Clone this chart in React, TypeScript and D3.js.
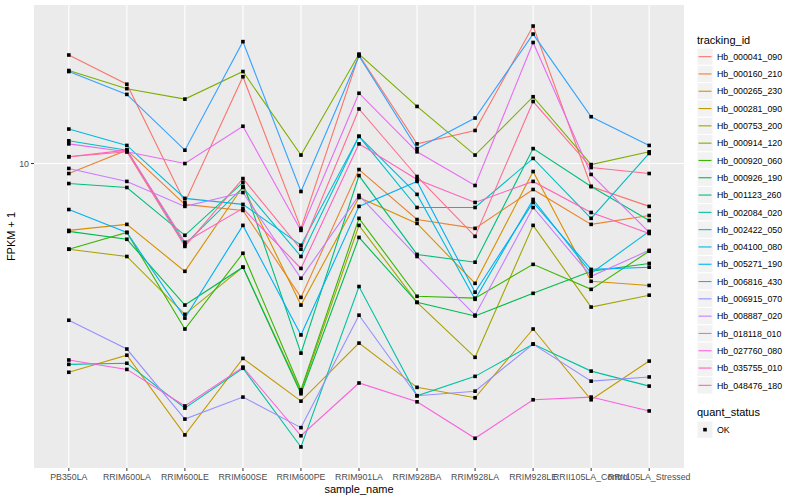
import * as d3 from 'd3'

const SAMPLES = [
  'PB350LA', 'RRIM600LA', 'RRIM600LE', 'RRIM600SE', 'RRIM600PE', 'RRIM901LA',
  'RRIM928BA', 'RRIM928LA', 'RRIM928LE', 'RRII105LA_Control', 'RRII105LA_Stressed',
]

const TRACKING_IDS = [
  'Hb_000041_090', 'Hb_000160_210', 'Hb_000265_230', 'Hb_000281_090', 'Hb_000753_200',
  'Hb_000914_120', 'Hb_000920_060', 'Hb_000926_190', 'Hb_001123_260', 'Hb_002084_020',
  'Hb_002422_050', 'Hb_004100_080', 'Hb_005271_190', 'Hb_006816_430', 'Hb_006915_070',
  'Hb_008887_020', 'Hb_018118_010', 'Hb_027760_080', 'Hb_035755_010', 'Hb_048476_180',
]

// ggplot hue palette, 20 levels
const COLORS = [
  '#F8766D', '#EA8331', '#D89000', '#C09B00', '#A3A500', '#7CAE00', '#39B600', '#00BB4E',
  '#00BF7D', '#00C1A3', '#00BFC4', '#00BAE0', '#00B0F6', '#35A2FF', '#9590FF', '#C77CFF',
  '#E76BF3', '#FA62DB', '#FF62BC', '#FF6C91',
]

// FPKM + 1, one row per tracking_id, one column per sample
const FPKM_PLUS_1: number[][] = [
  [18.7, 15.8, 7.99, 16.5, 6.88, 18.7, 11.2, 12.1, 22.1, 8.76, 7.81],
  [9.44, 10.8, 7.90, 7.63, 4.62, 9.66, 7.24, 6.88, 8.61, 7.04, 7.41],
  [6.80, 7.04, 5.37, 8.76, 4.42, 8.22, 7.08, 5.01, 9.55, 5.07, 4.95],
  [3.00, 3.31, 2.09, 3.25, 2.54, 3.55, 2.75, 2.59, 3.85, 2.56, 3.20],
  [6.10, 5.85, 4.19, 5.50, 2.68, 7.00, 4.49, 3.27, 7.00, 4.37, 4.68],
  [17.1, 15.4, 14.5, 17.0, 10.5, 18.8, 13.9, 10.5, 14.7, 9.94, 10.7],
  [6.10, 6.72, 3.85, 5.96, 2.71, 7.29, 4.65, 4.60, 5.59, 4.84, 6.03],
  [6.76, 6.46, 4.42, 5.50, 2.65, 6.53, 4.49, 4.15, 4.73, 5.37, 5.62],
  [8.91, 8.71, 6.61, 8.97, 3.35, 9.33, 5.92, 5.66, 10.9, 8.76, 7.20],
  [3.14, 3.16, 2.44, 3.07, 1.95, 4.92, 2.62, 2.93, 3.53, 3.02, 2.77],
  [11.4, 10.8, 6.27, 8.71, 5.85, 11.7, 7.76, 7.76, 10.3, 7.29, 10.6],
  [12.2, 11.1, 8.18, 7.90, 6.24, 11.7, 8.37, 4.57, 8.13, 5.31, 6.76],
  [7.67, 6.72, 4.10, 7.00, 3.72, 7.81, 9.02, 4.76, 7.99, 5.43, 5.50],
  [17.0, 14.9, 10.8, 20.2, 8.51, 18.6, 10.9, 13.0, 21.1, 13.1, 11.1],
  [4.05, 3.43, 2.29, 2.60, 2.18, 4.17, 2.62, 2.69, 3.53, 2.85, 2.92],
  [9.72, 9.02, 7.81, 8.46, 5.16, 8.32, 5.85, 4.17, 7.76, 5.22, 6.06],
  [11.2, 10.7, 10.0, 12.4, 6.80, 15.0, 10.7, 8.81, 20.1, 9.39, 6.72],
  [3.22, 3.05, 2.47, 3.09, 2.08, 2.82, 2.53, 2.05, 2.56, 2.60, 2.40],
  [10.4, 10.8, 6.35, 7.72, 5.46, 11.2, 9.12, 7.99, 9.02, 7.54, 6.68],
  [10.4, 10.7, 6.20, 9.17, 6.10, 13.7, 9.28, 6.57, 14.3, 9.77, 9.44],
]

const Y_TICKS = [10]

const WIDTH = 800
const HEIGHT = 500
const P = { left: 34, right: 684, top: 5, bottom: 468 }
const FONT = '"Liberation Sans", Arial, Helvetica, sans-serif'

export default function App() {
  const x = d3.scalePoint<string>().domain(SAMPLES).range([P.left, P.right]).padding(0.6)

  // log scale with ggplot-style 5% expansion
  const all = FPKM_PLUS_1.flat()
  const lo = Math.log10(d3.min(all)!)
  const hi = Math.log10(d3.max(all)!)
  const pad = (hi - lo) * 0.05
  const y = d3.scaleLog().domain([10 ** (lo - pad), 10 ** (hi + pad)]).range([P.bottom, P.top])

  const line = d3.line<number>()
    .x((_, i) => x(SAMPLES[i])!)
    .y(v => y(v))

  const legendTop = 48
  const keyH = 17.3
  const keyX = 697
  const keyW = 16
  const qTop = 412

  return (
    <div style={{ position: 'absolute', left: 0, top: 0 }}>
      <svg width={WIDTH} height={HEIGHT} style={{ display: 'block', fontFamily: FONT }}>
        <rect width={WIDTH} height={HEIGHT} fill="#fff" />
        <rect x={P.left} y={P.top} width={P.right - P.left} height={P.bottom - P.top} fill="#EBEBEB" />

        {/* grid */}
        {Y_TICKS.map(t => (
          <line key={t} x1={P.left} x2={P.right} y1={y(t)} y2={y(t)} stroke="#fff" strokeWidth={1.1} />
        ))}
        {SAMPLES.map(s => (
          <line key={s} x1={x(s)} x2={x(s)} y1={P.top} y2={P.bottom} stroke="#fff" strokeWidth={1.1} />
        ))}

        {/* series */}
        {FPKM_PLUS_1.map((row, i) => (
          <path key={TRACKING_IDS[i]} d={line(row)!} fill="none" stroke={COLORS[i]} strokeWidth={1.1} />
        ))}
        {FPKM_PLUS_1.map((row, i) =>
          row.map((v, j) => (
            <rect key={`${i}-${j}`} x={x(SAMPLES[j])! - 1.8} y={y(v) - 1.8} width={3.6} height={3.6} fill="#000" />
          ))
        )}

        {/* y axis */}
        {Y_TICKS.map(t => (
          <g key={t}>
            <line x1={P.left - 3} x2={P.left} y1={y(t)} y2={y(t)} stroke="#333" strokeWidth={1} />
            <text x={P.left - 5} y={y(t) + 3} textAnchor="end" fontSize={8.8} fill="#4D4D4D">{t}</text>
          </g>
        ))}
        <text transform={`translate(15,${(P.top + P.bottom) / 2}) rotate(-90)`} textAnchor="middle" fontSize={11} fill="#000">
          FPKM + 1
        </text>

        {/* x axis */}
        {SAMPLES.map(s => (
          <g key={s}>
            <line x1={x(s)} x2={x(s)} y1={P.bottom} y2={P.bottom + 3} stroke="#333" strokeWidth={1} />
            <text x={x(s)} y={P.bottom + 12} textAnchor="middle" fontSize={8.8} fill="#4D4D4D">{s}</text>
          </g>
        ))}
        <text x={(P.left + P.right) / 2} y={P.bottom + 25} textAnchor="middle" fontSize={11} fill="#000">
          sample_name
        </text>

        {/* legend: tracking_id */}
        <text x={keyX} y={legendTop - 4} fontSize={11} fill="#000">tracking_id</text>
        {TRACKING_IDS.map((id, i) => {
          const ky = legendTop + i * keyH
          return (
            <g key={id}>
              <rect x={keyX} y={ky} width={keyW} height={keyH} fill="#F2F2F2" stroke="#fff" strokeWidth={1} />
              <line x1={keyX + 1.5} x2={keyX + keyW - 1.5} y1={ky + keyH / 2} y2={ky + keyH / 2} stroke={COLORS[i]} strokeWidth={1.1} />
              <text x={keyX + keyW + 4} y={ky + keyH / 2 + 3.2} fontSize={8.8} fill="#000">{id}</text>
            </g>
          )
        })}

        {/* legend: quant_status */}
        <text x={keyX} y={qTop + 4} fontSize={11} fill="#000">quant_status</text>
        <rect x={keyX} y={qTop + 9} width={keyW} height={keyH} fill="#F2F2F2" stroke="#fff" strokeWidth={1} />
        <rect x={keyX + keyW / 2 - 1.8} y={qTop + 9 + keyH / 2 - 1.8} width={3.6} height={3.6} fill="#000" />
        <text x={keyX + keyW + 4} y={qTop + 9 + keyH / 2 + 3.2} fontSize={8.8} fill="#000">OK</text>
      </svg>
    </div>
  )
}
